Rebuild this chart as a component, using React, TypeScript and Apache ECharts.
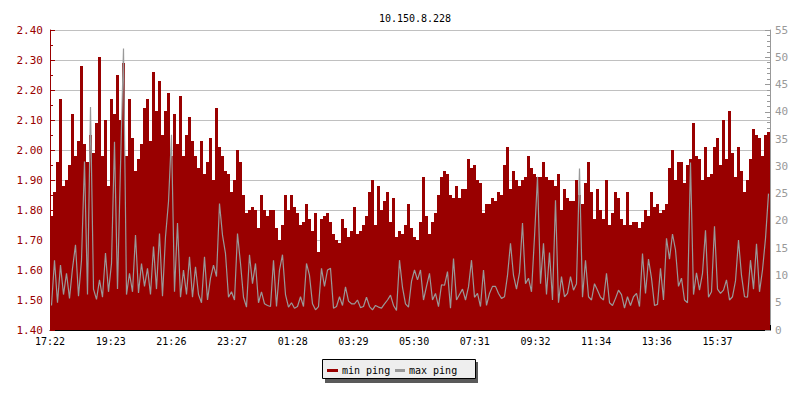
import React, { useEffect, useRef } from 'react';
import * as echarts from 'echarts';

const TITLE = '10.150.8.228';
const FONT = '"DejaVu Sans Mono", "Liberation Mono", monospace';

// time tick labels (every ~121.4 min, starting at the left edge)
const timeLabels = ['17:22', '19:23', '21:26', '23:27', '01:28', '03:29', '05:30', '07:31', '09:32', '11:34', '13:36', '15:37'];
const SPAN_MIN = 1440;          // whole x-range in minutes
const STEP_MIN = 6;             // one sample every 6 minutes
const TICK_MIN = 1335 / 11;     // spacing of the time labels

// min ping (ms, left axis), in five consecutive time segments
const minPing1 = [1.78, 1.86, 1.96, 2.17, 1.88, 1.90, 1.95, 2.12, 1.98, 2.03, 2.28, 2.02, 1.96, 2.05, 1.99, 2.09, 2.31, 1.98, 2.10, 1.88, 2.17, 2.12, 2.25, 2.10, 2.29, 1.98, 2.17, 2.04, 1.93, 1.97, 2.02, 2.14, 2.17, 2.03, 2.26, 2.13, 2.23, 2.05, 2.13, 2.19, 1.98, 2.12, 2.02, 2.18, 1.98, 2.05, 2.11, 2.03];
const minPing2 = [1.98, 1.94, 2.03, 1.92, 1.96, 2.04, 1.90, 2.14, 2.01, 1.98, 1.93, 1.92, 1.86, 1.90, 2.00, 1.96, 1.85, 1.79, 1.80, 1.81, 1.80, 1.74, 1.85, 1.80, 1.78, 1.80, 1.80, 1.74, 1.70, 1.75, 1.85, 1.80, 1.85, 1.81, 1.79, 1.75, 1.76, 1.82, 1.77, 1.73, 1.79, 1.66, 1.77, 1.78, 1.79, 1.76, 1.72, 1.70];
const minPing3 = [1.69, 1.77, 1.74, 1.71, 1.73, 1.81, 1.72, 1.73, 1.75, 1.78, 1.86, 1.90, 1.75, 1.88, 1.80, 1.83, 1.86, 1.76, 1.84, 1.71, 1.73, 1.72, 1.75, 1.82, 1.74, 1.71, 1.70, 1.76, 1.91, 1.78, 1.72, 1.76, 1.79, 1.85, 1.91, 1.93, 1.92, 1.85, 1.84, 1.88, 1.84, 1.87, 1.87, 1.97, 1.94, 1.95, 1.90, 1.89];
const minPing4 = [1.79, 1.82, 1.82, 1.84, 1.83, 1.86, 1.85, 1.95, 2.01, 1.87, 1.93, 1.90, 1.88, 1.90, 1.91, 1.98, 1.94, 1.92, 1.91, 1.91, 1.96, 1.91, 1.90, 1.90, 1.88, 1.92, 1.80, 1.87, 1.84, 1.83, 1.83, 1.90, 1.85, 1.82, 1.89, 1.96, 1.86, 1.77, 1.87, 1.80, 1.77, 1.90, 1.75, 1.79, 1.86, 1.84, 1.77, 1.75];
const minPing5 = [1.86, 1.75, 1.76, 1.76, 1.74, 1.76, 1.80, 1.78, 1.86, 1.81, 1.82, 1.79, 1.80, 1.82, 1.94, 2.00, 1.90, 1.96, 1.96, 1.89, 1.95, 1.97, 2.09, 1.98, 1.97, 1.90, 2.01, 1.91, 1.92, 2.01, 2.04, 1.95, 2.10, 1.97, 2.13, 1.99, 1.91, 2.01, 1.93, 1.86, 1.90, 1.97, 2.07, 2.05, 2.04, 1.98, 2.05, 2.06];

// max ping (ms, right axis), same segments
const maxPing1 = [4.5, 12.8, 5.0, 11.9, 6.5, 10.4, 5.8, 11.3, 15.6, 6.2, 12.8, 30.9, 6.5, 40.9, 7.5, 5.6, 9.2, 6.0, 14.1, 7.0, 12.2, 34.5, 7.5, 30.0, 51.6, 6.5, 10.4, 7.0, 17.4, 6.8, 12.2, 8.0, 11.3, 6.5, 15.3, 7.5, 17.7, 6.2, 17.1, 23.5, 35.8, 7.0, 19.6, 6.0, 11.0, 6.5, 13.4, 6.0];
const maxPing2 = [11.6, 6.5, 5.0, 13.4, 5.5, 9.5, 11.9, 9.8, 23.2, 17.4, 14.0, 6.0, 7.0, 5.5, 17.7, 12.2, 6.0, 4.2, 13.8, 8.5, 12.2, 5.0, 7.0, 4.8, 4.5, 4.3, 12.8, 4.3, 11.0, 13.8, 6.5, 4.2, 5.0, 4.0, 4.3, 6.1, 4.3, 12.2, 10.0, 4.8, 3.7, 4.3, 11.3, 8.0, 11.0, 11.3, 4.0, 4.3];
const maxPing3 = [6.1, 4.5, 7.9, 5.3, 4.8, 4.8, 5.5, 4.1, 4.3, 6.0, 4.3, 3.7, 4.5, 4.2, 4.0, 4.8, 5.5, 6.4, 4.5, 3.6, 12.8, 7.8, 4.8, 4.2, 8.9, 11.0, 9.2, 11.0, 5.5, 8.0, 10.4, 5.5, 6.7, 4.3, 8.3, 8.2, 10.7, 4.0, 13.1, 5.5, 6.5, 7.5, 5.5, 7.9, 12.8, 6.0, 6.7, 4.3];
const maxPing4 = [11.0, 4.5, 6.7, 8.0, 8.0, 6.7, 5.8, 6.1, 10.0, 15.9, 10.0, 7.5, 10.5, 19.6, 8.5, 9.5, 7.0, 17.1, 28.1, 8.5, 15.9, 6.5, 14.2, 5.5, 23.8, 5.0, 9.8, 6.1, 6.7, 9.8, 7.3, 8.5, 29.6, 6.0, 12.8, 6.1, 5.5, 8.5, 7.3, 6.0, 5.5, 10.4, 5.0, 4.5, 5.8, 7.3, 6.5, 4.0];
const maxPing5 = [6.1, 4.5, 6.1, 6.7, 4.3, 14.0, 6.7, 13.0, 9.5, 4.5, 4.7, 11.3, 5.5, 16.8, 13.0, 17.6, 14.7, 8.0, 9.5, 5.5, 5.0, 30.7, 6.5, 10.5, 7.3, 10.4, 18.3, 6.0, 7.0, 19.0, 7.5, 6.7, 7.3, 9.2, 5.5, 6.1, 9.0, 16.5, 10.0, 6.1, 6.0, 12.8, 7.5, 15.8, 7.0, 11.0, 16.8, 25.0];

const seriesNames = ['min ping', 'max ping'];
const seriesColors = ['#990000', '#999999'];

export default function App() {
  const ref = useRef<HTMLDivElement>(null);

  useEffect(() => {
    if (!ref.current) return;
    const chart = echarts.init(ref.current, null, { renderer: 'svg' });

    const minPing = [...minPing1, ...minPing2, ...minPing3, ...minPing4, ...minPing5];
    const maxPing = [...maxPing1, ...maxPing2, ...maxPing3, ...maxPing4, ...maxPing5];
    const minData = minPing.map((v, i) => [i * STEP_MIN + STEP_MIN / 2, v]);
    const maxData = maxPing.map((v, i) => [i * STEP_MIN + STEP_MIN / 2, v]);

    const textBase = { fontFamily: FONT, fontSize: 10 };

    chart.setOption({
      animation: false,
      backgroundColor: '#ffffff',
      title: {
        text: TITLE,
        left: 410,
        top: 8,
        textAlign: 'center',
        textStyle: { ...textBase, fontWeight: 'normal', color: '#000000' },
      },
      grid: { left: 50, right: 30, top: 30, bottom: 70, containLabel: false },
      xAxis: {
        type: 'value',
        min: 0,
        max: SPAN_MIN,
        interval: TICK_MIN,
        axisLine: { show: true, lineStyle: { color: '#000000', width: 1 } },
        axisTick: { show: true, inside: true, length: 5, lineStyle: { color: '#000000' } },
        axisLabel: {
          ...textBase,
          color: '#000000',
          margin: 6,
          formatter: (v: number) => {
            const k = Math.round(v / TICK_MIN);
            if (Math.abs(v - k * TICK_MIN) > 0.5 || k >= timeLabels.length) return '';
            return timeLabels[k];
          },
        },
        splitLine: { show: false },
      },
      yAxis: [
        {
          type: 'value',
          position: 'left',
          min: 1.4,
          max: 2.4,
          interval: 0.1,
          axisLine: { show: true, lineStyle: { color: '#990000', width: 1 } },
          axisTick: { show: true, inside: true, length: 5, lineStyle: { color: '#990000' } },
          minorTick: { show: true, splitNumber: 2, length: 3, lineStyle: { color: '#990000' } },
          axisLabel: { ...textBase, fontSize: 11, color: '#990000', margin: 7, formatter: (v: number) => v.toFixed(2) },
          splitLine: { show: true, lineStyle: { color: '#c0c0c0', width: 1 } },
        },
        {
          type: 'value',
          position: 'right',
          min: 0,
          max: 55,
          interval: 5,
          axisLine: { show: true, lineStyle: { color: '#999999', width: 1 } },
          axisTick: { show: true, inside: true, length: 5, lineStyle: { color: '#999999' } },
          minorTick: { show: true, splitNumber: 5, length: 3, lineStyle: { color: '#999999' } },
          axisLabel: { ...textBase, fontSize: 11, color: '#999999', margin: 5 },
          splitLine: { show: false },
        },
      ],
      series: [
        {
          name: seriesNames[0],
          type: 'bar',
          yAxisIndex: 0,
          data: minData,
          barWidth: 3,
          itemStyle: { color: seriesColors[0] },
          z: 2,
        },
        {
          name: seriesNames[1],
          type: 'line',
          yAxisIndex: 1,
          data: maxData,
          symbol: 'none',
          showSymbol: false,
          lineStyle: { color: seriesColors[1], width: 1.2 },
          itemStyle: { color: seriesColors[1] },
          z: 3,
        },
      ],
      graphic: [
        { type: 'rect', shape: { x: 325, y: 362, width: 153, height: 21 }, style: { fill: '#5a5a5a' } },
        { type: 'rect', shape: { x: 322.5, y: 359.5, width: 153, height: 19 }, style: { fill: '#eeeeee', stroke: '#000000', lineWidth: 1 } },
        { type: 'line', shape: { x1: 327, y1: 370.5, x2: 338, y2: 370.5 }, style: { stroke: seriesColors[0], lineWidth: 3 } },
        { type: 'text', x: 342, y: 370, style: { text: seriesNames[0], font: `10px ${FONT}`, fill: '#000000', verticalAlign: 'middle' } },
        { type: 'line', shape: { x1: 395, y1: 370.5, x2: 405, y2: 370.5 }, style: { stroke: seriesColors[1], lineWidth: 3 } },
        { type: 'text', x: 409, y: 370, style: { text: seriesNames[1], font: `10px ${FONT}`, fill: '#000000', verticalAlign: 'middle' } },
      ],
    });

    return () => chart.dispose();
  }, []);

  return <div ref={ref} style={{ position: 'fixed', left: 0, top: 0, width: 800, height: 400 }} />;
}
